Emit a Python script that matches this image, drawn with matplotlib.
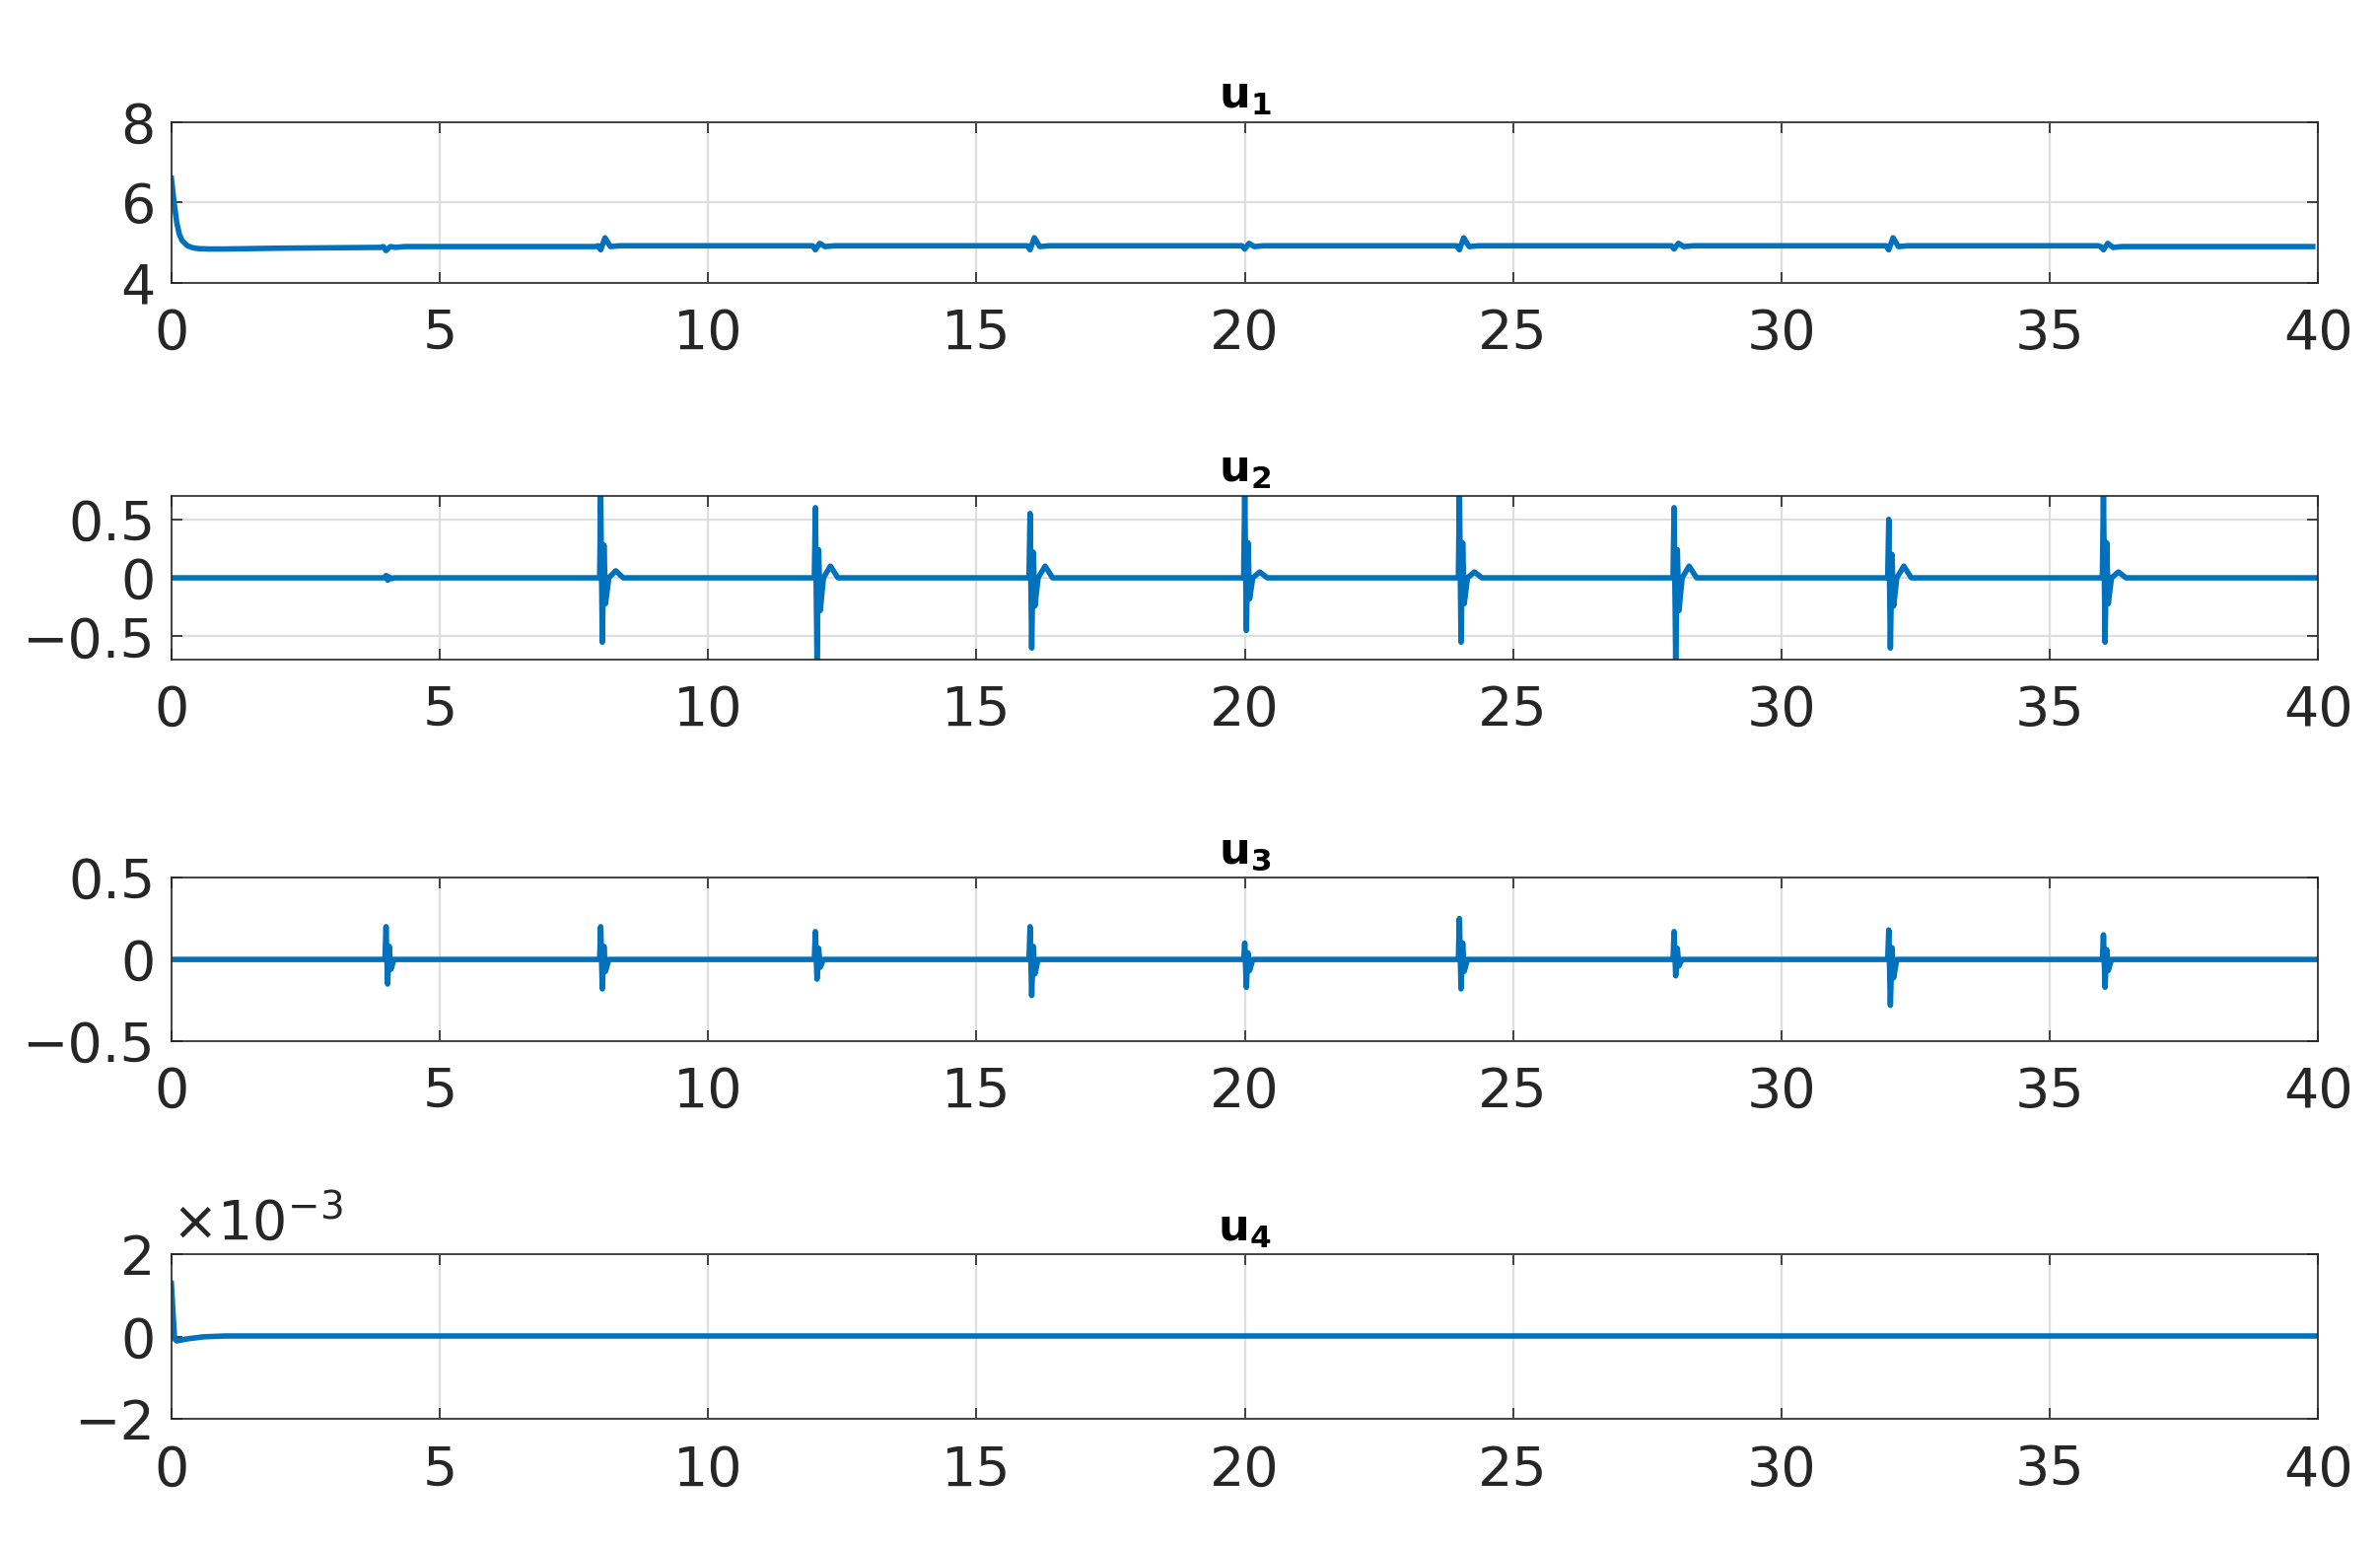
import matplotlib
matplotlib.use("Agg")
import matplotlib.pyplot as plt
import numpy as np

color = "#0072BD"

# u1: initial transient then small bumps
u1_t = [0, 0.05, 0.1, 0.15, 0.2, 0.3, 0.4, 0.5, 0.7, 1.0, 2.0, 3.9]
u1_v = [6.6, 6.0, 5.5, 5.2, 5.05, 4.92, 4.87, 4.85, 4.84, 4.84, 4.86, 4.88]
bump_times = [4, 8, 12, 16, 20, 24, 28, 32, 36]
bump_up = [4.9, 5.12, 4.98, 5.12, 4.98, 5.12, 4.98, 5.12, 4.98]
bump_dn = [4.8, 4.82, 4.82, 4.82, 4.84, 4.82, 4.84, 4.82, 4.82]
u1_level = [4.9, 4.92, 4.92, 4.92, 4.92, 4.92, 4.92, 4.92, 4.9]

# u2 spikes
u2_times = [4, 8, 12, 16, 20, 24, 28, 32, 36]
u2_up = [0.02, 0.7, 0.6, 0.55, 0.75, 0.75, 0.6, 0.5, 0.75]
u2_dn = [-0.02, -0.55, -0.7, -0.6, -0.45, -0.55, -0.7, -0.6, -0.55]
u2_bump = [0.0, 0.06, 0.1, 0.1, 0.05, 0.05, 0.1, 0.1, 0.05]

# u3 spikes
u3_times = [4, 8, 12, 16, 20, 24, 28, 32, 36]
u3_up = [0.2, 0.2, 0.17, 0.2, 0.1, 0.25, 0.17, 0.18, 0.15]
u3_dn = [-0.15, -0.18, -0.12, -0.22, -0.17, -0.18, -0.1, -0.28, -0.17]

# u4 (units of 1e-3)
u4_t = [0, 0.03, 0.06, 0.1, 0.3, 0.6, 1.0, 40]
u4_v = [1.3, 0.6, -0.05, -0.1, -0.05, 0.0, 0.02, 0.02]

def build_u1():
    t, v = list(u1_t), list(u1_v)
    for tb, up, dn, lv in zip(bump_times, bump_up, bump_dn, u1_level):
        t += [tb - 0.05, tb, tb + 0.08, tb + 0.18, tb + 0.35, tb + 3.9]
        v += [lv, dn, up, lv - 0.02, lv, lv]
    return t, v

def build_spikes(times, ups, dns, bumps=None):
    t, v = [0], [0]
    for i, (ts, up, dn) in enumerate(zip(times, ups, dns)):
        b = bumps[i] if bumps else 0.0
        t += [ts - 0.02, ts, ts + 0.03, ts + 0.06, ts + 0.09, ts + 0.15, ts + 0.28, ts + 0.42, ts + 0.6]
        v += [0, up, dn, up * 0.4, dn * 0.4, 0.0, b, 0.0, 0.0]
    t.append(40); v.append(0)
    return t, v

fig = plt.figure(figsize=(12.07, 7.835), dpi=200)
left, width = 0.072, 0.902
rects = [(0.817, 0.104), (0.573, 0.106), (0.326, 0.106), (0.0815, 0.1065)]
series = [build_u1(), build_spikes(u2_times, u2_up, u2_dn, u2_bump),
          build_spikes(u3_times, u3_up, u3_dn), (u4_t, u4_v)]
ylims = [(4, 8), (-0.7, 0.7), (-0.5, 0.5), (-2, 2)]
yticks = [[4, 6, 8], [-0.5, 0, 0.5], [-0.5, 0, 0.5], [-2, 0, 2]]
yticklabels = [["4", "6", "8"], ["\u22120.5", "0", "0.5"], ["\u22120.5", "0", "0.5"], ["\u22122", "0", "2"]]
titles = [r"$\mathbf{u_1}$", r"$\mathbf{u_2}$", r"$\mathbf{u_3}$", r"$\mathbf{u_4}$"]

for i, (b, h) in enumerate(rects):
    ax = fig.add_axes([left, b, width, h])
    t, v = series[i]
    ax.plot(t, v, color=color, lw=2.0)
    ax.set_xlim(0, 40)
    ax.set_ylim(*ylims[i])
    ax.set_xticks(range(0, 41, 5))
    ax.set_yticks(yticks[i])
    ax.set_yticklabels(yticklabels[i])
    ax.grid(True, color="#dedede", lw=0.8)
    ax.tick_params(labelsize=20, colors="#262626", direction="in", length=4, width=0.6,
                   top=True, right=True)
    ax.tick_params(axis="x", pad=9)
    ax.tick_params(axis="y", pad=6)
    for s in ax.spines.values():
        s.set_color("#262626"); s.set_linewidth(0.6)
    ax.set_title(titles[i], fontsize=16, pad=5)
    if i == 3:
        ax.text(0.0, 1.02, r"$\times10^{-3}$", transform=ax.transAxes, fontsize=20,
                color="#262626", va="bottom", ha="left")

fig.savefig("out.png", dpi=200)
